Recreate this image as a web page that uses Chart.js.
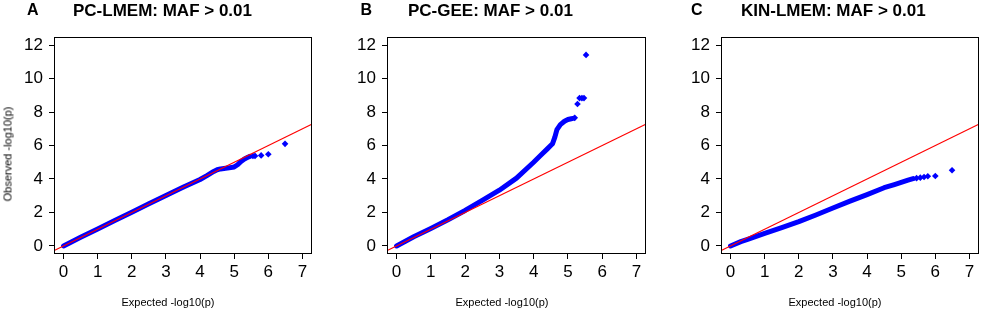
<!DOCTYPE html>
<html>
<head>
<meta charset="utf-8">
<script src="https://cdn.jsdelivr.net/npm/chart.js@4.4.1/dist/chart.umd.min.js"></script>
<style>
  html, body { margin: 0; padding: 0; background: #fff; }
  body { width: 984px; height: 311px; position: relative; overflow: hidden; font-family: "Liberation Sans", Arial, sans-serif; }
  canvas { position: absolute; top: 0; }
  .lbl { position: absolute; white-space: nowrap; line-height: 1; color: #000; }
  .title { font-size: 17px; font-weight: bold; top: 1.6px; }
  .letter { font-size: 16px; font-weight: bold; top: 2.4px; }
  .xlab { font-size: 11px; top: 296.5px; transform: translateX(-50%); }
  .ylab { font-size: 11px; transform: translate(-50%, -50%) rotate(-90deg); }
</style>
</head>
<body>
<canvas id="cA" width="330" height="311" style="left:0px"></canvas>
<canvas id="cB" width="330" height="311" style="left:330px"></canvas>
<canvas id="cC" width="330" height="311" style="left:654px"></canvas>

<div class="lbl letter" style="left:27px">A</div>
<div class="lbl title" style="left:73px">PC-LMEM: MAF &gt; 0.01</div>
<div class="lbl letter" style="left:360.5px">B</div>
<div class="lbl title" style="left:408px">PC-GEE: MAF &gt; 0.01</div>
<div class="lbl letter" style="left:691px">C</div>
<div class="lbl title" style="left:741px">KIN-LMEM: MAF &gt; 0.01</div>

<div class="lbl xlab" style="left:168px">Expected -log10(p)</div>
<div class="lbl xlab" style="left:502px">Expected -log10(p)</div>
<div class="lbl xlab" style="left:835px">Expected -log10(p)</div>
<div class="lbl ylab" style="left:7.5px; top:153.5px">Observed -log10(p)</div>

<script>
// ---- tick labels ----
const xTicks = [0, 1, 2, 3, 4, 5, 6, 7];
const yTicks = [0, 2, 4, 6, 8, 10, 12];

// ---- reference line y = x (extends past the plot box, clipped) ----
const refX = [-1, 8];
const refY = [-1, 8];

// ---- Panel A: PC-LMEM (dense band, then sparse tail points) ----
const aExp = [0, 0.5, 1, 1.5, 2, 2.5, 3, 3.5, 4, 4.2, 4.4, 4.5, 4.6, 4.8, 5.0, 5.1, 5.2, 5.3, 5.4, 5.46];
const aObs = [0, 0.52, 1.02, 1.52, 2.02, 2.52, 3.02, 3.5, 3.97, 4.2, 4.45, 4.55, 4.6, 4.65, 4.72, 4.85, 5.05, 5.2, 5.3, 5.35];
const aTailExp = [5.55, 5.61, 5.79, 6.0, 6.49];
const aTailObs = [5.37, 5.38, 5.41, 5.48, 6.1];

// ---- Panel B: PC-GEE ----
const bExp = [0, 0.5, 1, 1.5, 2, 2.5, 3, 3.5, 4, 4.2, 4.4, 4.55, 4.62, 4.68, 4.78, 4.9, 5.0, 5.1, 5.15];
const bObs = [0, 0.55, 1.05, 1.57, 2.12, 2.72, 3.33, 4.05, 5.0, 5.4, 5.8, 6.1, 6.5, 6.95, 7.25, 7.45, 7.55, 7.6, 7.62];
const bTailExp = [5.2, 5.28, 5.34, 5.41, 5.47, 5.53];
const bTailObs = [7.65, 8.48, 8.83, 8.83, 8.83, 11.41];

// ---- Panel C: KIN-LMEM ----
const cExp = [0, 0.3, 0.5, 1, 1.5, 2, 2.5, 3, 3.5, 4, 4.5, 4.8, 5.0, 5.2, 5.35];
const cObs = [0, 0.26, 0.4, 0.75, 1.1, 1.45, 1.85, 2.27, 2.68, 3.07, 3.48, 3.67, 3.8, 3.93, 4.02];
const cTailExp = [5.45, 5.56, 5.67, 5.78, 6.0, 6.49];
const cTailObs = [4.05, 4.08, 4.12, 4.16, 4.18, 4.52];

const toPts = (xs, ys) => xs.map((x, i) => ({ x: x, y: ys[i] }));

const boxPlugin = {
  id: 'box',
  afterDraw(chart) {
    const a = chart.chartArea;
    const ctx = chart.ctx;
    ctx.save();
    ctx.strokeStyle = '#000';
    ctx.lineWidth = 1;
    ctx.strokeRect(Math.round(a.left) + 0.5, Math.round(a.top) + 0.5,
      Math.round(a.right) - Math.round(a.left) - 1, Math.round(a.bottom) - Math.round(a.top) - 1);
    ctx.restore();
  }
};

function makePanel(id, bx, by, tx, ty, padLeft, padRight) {
  const ctx = document.getElementById(id).getContext('2d');
  return new Chart(ctx, {
    type: 'scatter',
    data: {
      datasets: [
        {
          label: 'y = x',
          data: toPts(refX, refY),
          showLine: true,
          borderColor: '#ff0000',
          borderWidth: 1.2,
          pointRadius: 0,
          order: 0
        },
        {
          label: 'band',
          data: toPts(bx, by),
          showLine: true,
          borderColor: '#0000ff',
          borderWidth: 5,
          borderCapStyle: 'round',
          borderJoinStyle: 'round',
          pointRadius: 0,
          order: 2
        },
        {
          label: 'tail',
          data: toPts(tx, ty),
          showLine: false,
          pointStyle: 'rectRot',
          pointRadius: 3.3,
          backgroundColor: '#0000ff',
          borderColor: '#0000ff',
          borderWidth: 0,
          order: 1
        }
      ]
    },
    options: {
      responsive: false,
      animation: false,
      devicePixelRatio: 1,
      events: [],
      layout: { padding: { left: padLeft, right: padRight, top: 37, bottom: 27 } },
      plugins: { legend: { display: false }, tooltip: { enabled: false }, title: { display: false } },
      scales: {
        x: {
          type: 'linear',
          min: -0.28, max: 7.28,
          afterBuildTicks: (s) => { s.ticks = xTicks.map(v => ({ value: v })); },
          afterFit: (s) => { s.height = 30; },
          border: { display: false },
          grid: { drawOnChartArea: false, drawTicks: true, tickLength: 5, color: '#000', lineWidth: 1 },
          ticks: { color: '#000', padding: 3, maxRotation: 0, autoSkip: false,
                   font: { family: '"Liberation Sans", Arial, sans-serif', size: 17 } }
        },
        y: {
          type: 'linear',
          min: -0.48, max: 12.48,
          afterBuildTicks: (s) => { s.ticks = yTicks.map(v => ({ value: v })); },
          afterFit: (s) => { s.width = 40; },
          border: { display: false },
          grid: { drawOnChartArea: false, drawTicks: true, tickLength: 5, color: '#000', lineWidth: 1 },
          ticks: { color: '#000', padding: 6, autoSkip: false,
                   font: { family: '"Liberation Sans", Arial, sans-serif', size: 17 } }
        }
      }
    },
    plugins: [boxPlugin]
  });
}

makePanel('cA', aExp, aObs, aTailExp, aTailObs, 14, 18);
makePanel('cB', bExp, bObs, bTailExp, bTailObs, 17, 14);
makePanel('cC', cExp, cObs, cTailExp, cTailObs, 27, 5);
</script>
</body>
</html>
